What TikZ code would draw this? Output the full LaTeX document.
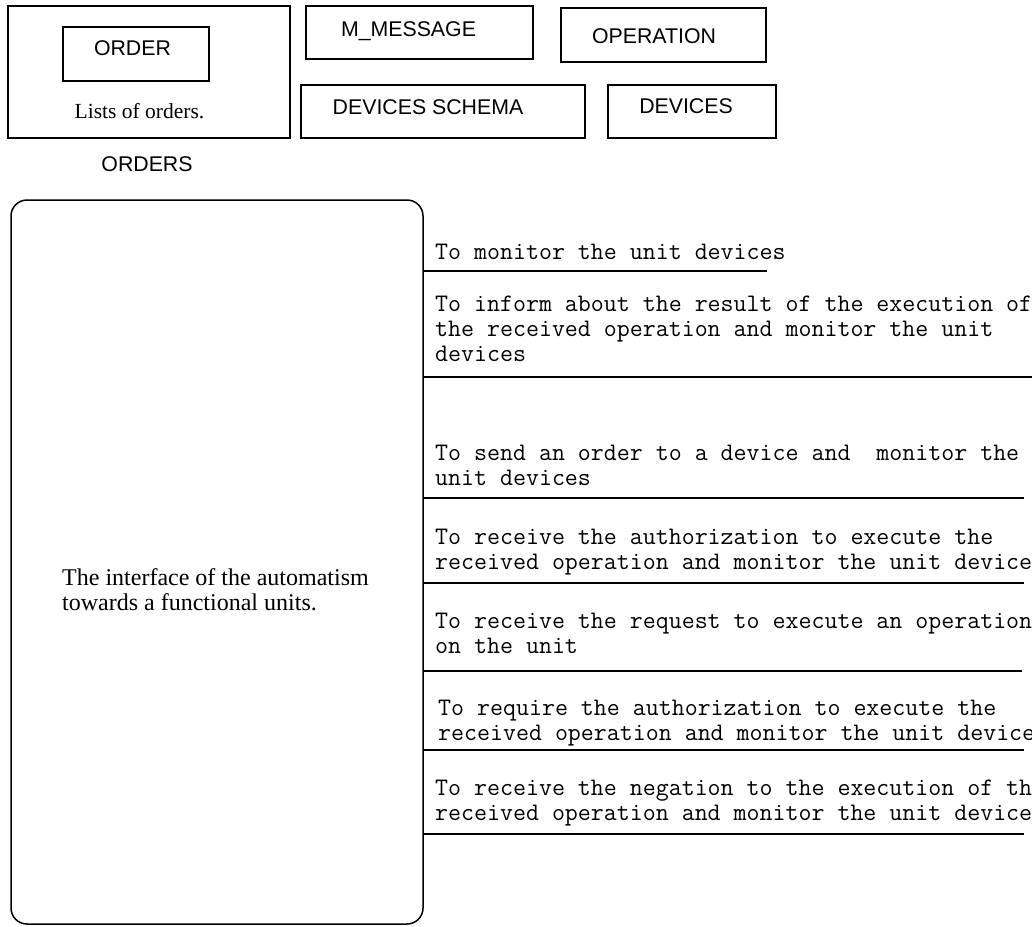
\documentclass[tikz,border=0pt]{standalone}
\usepackage{fontspec}
\setmainfont{Liberation Serif}
\setsansfont{Liberation Sans}
\begin{document}
\begin{tikzpicture}[x=1pt,y=-1pt,
  box/.style={draw,line width=1.5pt,inner sep=0,minimum width=#1},
  sanslbl/.style={font=\fontsize{21.3}{24}\selectfont\sffamily,inner sep=0,anchor=base},
  seriflbl/.style={font=\fontsize{21.5}{24}\selectfont\rmfamily,inner sep=0},
  desc/.style={font=\fontsize{25.2}{25}\selectfont\ttfamily,align=left,anchor=base west,inner sep=0},
  sep/.style={line width=1.5pt}]
\useasboundingbox (0,0) rectangle (1032,926);
% top boxes
\node[box=282pt,minimum height=132pt] (orders) at (149,72) {};
\node[box=146pt,minimum height=54pt] (order) at (136,54) {};
\node[sanslbl] (ordert) at (132.5,55) {ORDER};
\node[seriflbl,anchor=base] (lists) at (139.5,118) {Lists of orders.};
\node[sanslbl] (ordersl) at (147,171) {ORDERS};
\node[box=227pt,minimum height=53pt] (mmsg) at (419.5,32.5) {};
\node[sanslbl] (mmsgt) at (408.5,36) {M\_MESSAGE};
\node[box=205pt,minimum height=54pt] (oper) at (663.5,35) {};
\node[sanslbl] (opert) at (654,43) {OPERATION};
\node[box=284pt,minimum height=53pt] (dschema) at (443,111.5) {};
\node[sanslbl] (dschemat) at (428,114) {DEVICES SCHEMA};
\node[box=168pt,minimum height=53pt] (devices) at (692,111.5) {};
\node[sanslbl] (devicest) at (686,113) {DEVICES};
% big rounded box
\node[box=412pt,minimum height=724pt,rounded corners=16pt] (iface) at (217,562) {};
\node[seriflbl,font=\fontsize{24}{25}\selectfont\rmfamily,align=left,anchor=base west] (ifacet) at (62,610)
  {The interface of the automatism\\towards a functional units.};
% right side descriptions (anchor = baseline of the last line)
\node[desc] (t1) at (435,259) {To monitor the unit devices};
\coordinate (l1a) at (423,271); \coordinate (l1b) at (767,271);
\draw[sep] (l1a) -- (l1b);
\node[desc] (t2) at (435,361) {To inform about the result of the execution of\\the received operation and monitor the unit\\devices};
\coordinate (l2a) at (423,377); \coordinate (l2b) at (1032,377);
\draw[sep] (l2a) -- (l2b);
\node[desc] (t3) at (435,485) {To send an order to a device and\ \ monitor the\\unit devices};
\coordinate (l3a) at (423,498); \coordinate (l3b) at (1024,498);
\draw[sep] (l3a) -- (l3b);
\node[desc] (t4) at (435,569) {To receive the authorization to execute the\\received operation and monitor the unit devices};
\coordinate (l4a) at (423,583); \coordinate (l4b) at (1024,583);
\draw[sep] (l4a) -- (l4b);
\node[desc] (t5) at (435,653) {To receive the request to execute an operation\\on the unit};
\coordinate (l5a) at (423,671); \coordinate (l5b) at (1022,671);
\draw[sep] (l5a) -- (l5b);
\node[desc] (t6) at (438,740) {To require the authorization to execute the\\received operation and monitor the unit devices};
\coordinate (l6a) at (423,750); \coordinate (l6b) at (1024,750);
\draw[sep] (l6a) -- (l6b);
\node[desc] (t7) at (435,820) {To receive the negation to the execution of the\\received operation and monitor the unit devices};
\coordinate (l7a) at (423,834); \coordinate (l7b) at (1024,834);
\draw[sep] (l7a) -- (l7b);
\end{tikzpicture}
\end{document}
